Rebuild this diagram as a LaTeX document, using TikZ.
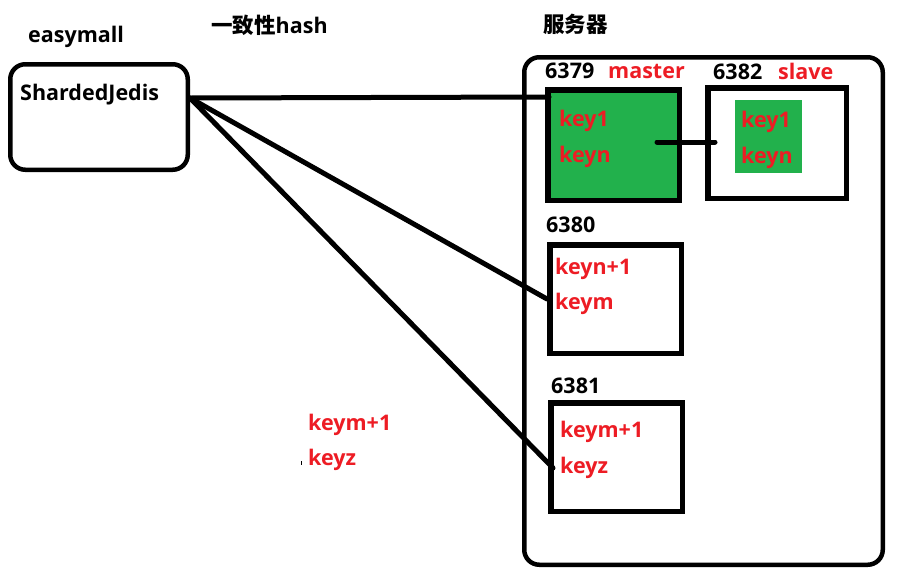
\documentclass[tikz,border=0pt]{standalone}
\usepackage{fontspec}
\setmainfont{Open Sans}
\newfontfamily\cjk{Noto Sans CJK SC}
\usetikzlibrary{calc}
\definecolor{pred}{HTML}{ED1C24}
\definecolor{pgreen}{HTML}{22B14C}
\begin{document}
\begin{tikzpicture}[x=1pt,y=-1pt,
  lbl/.style={anchor=base west,inner sep=0,font=\fontsize{21.5}{25}\selectfont\bfseries},
  rlbl/.style={lbl,text=pred},
  sbox/.style={draw=black,line width=5.5pt,inner sep=0},
  rbox/.style={draw=black,line width=4.5pt,rounded corners=15pt,inner sep=0},
  conn/.style={draw=black,line width=5pt,line cap=round}]
\useasboundingbox (0,0) rectangle (904,579);
% client
\node[rbox,minimum width=177.5pt,minimum height=105.5pt] (sj) at (99,117) {};
\node[lbl] (tsj) at (20,100) {ShardedJedis};
\node[lbl] (tem) at (28,42) {easymall};
\node[lbl] (thash) at (211,33) {{\cjk 一致性}hash};
\node[lbl] (tsrv) at (543,32) {\cjk 服务器};
% server frame
\node[rbox,minimum width=358.5pt,minimum height=507.5pt] (srv) at (703.5,311) {};
% master
\node[sbox,fill=pgreen,minimum width=131.5pt,minimum height=110.5pt] (m) at (613.5,145) {};
\node[lbl] (t79) at (545,78) {6379};
\node[rlbl] (tma) at (608,78) {master};
\node[rlbl] (mk1) at (559,126) {key1};
\node[rlbl] (mkn) at (559,162) {keyn};
% slave
\node[sbox,minimum width=138.5pt,minimum height=110.5pt] (s) at (777,143) {};
\node[fill=pgreen,inner sep=0,minimum width=67pt,minimum height=73pt] (sg) at (768.5,136.5) {};
\node[lbl] (t82) at (713,79) {6382};
\node[rlbl] (tsl) at (778,79) {slave};
\node[rlbl] (sk1) at (741,127) {key1};
\node[rlbl] (skn) at (741,163) {keyn};
% 6380
\node[sbox,minimum width=131.5pt,minimum height=108.5pt] (b80) at (615.5,299) {};
\node[lbl] (t80) at (546,232) {6380};
\node[rlbl] (k80a) at (555,274) {keyn+1};
\node[rlbl] (k80b) at (555,309) {keym};
% 6381
\node[sbox,minimum width=131.5pt,minimum height=108.5pt] (b81) at (616.5,457) {};
\node[lbl] (t81) at (551,393) {6381};
\node[rlbl] (k81a) at (560,437) {keym+1};
\node[rlbl] (k81b) at (560,473) {keyz};
% free labels
\node[rlbl] (fa) at (308,430) {keym+1};
\node[rlbl] (fb) at (308,465) {keyz};
\fill[black] (300.5,461) rectangle (301.5,465);
% connectors
\coordinate (sjo) at (190,98);
\coordinate (mo) at (657,142);
\coordinate (si) at (715,142);
\coordinate (e81) at ($(b81.west)+(5,11)$);
\draw[conn] (sjo) -- (549,97);
\draw[conn] (sjo) -- (b80.west);
\draw[conn] (sjo) -- (e81);
\draw[conn] (mo) -- (si);
\end{tikzpicture}
\end{document}
